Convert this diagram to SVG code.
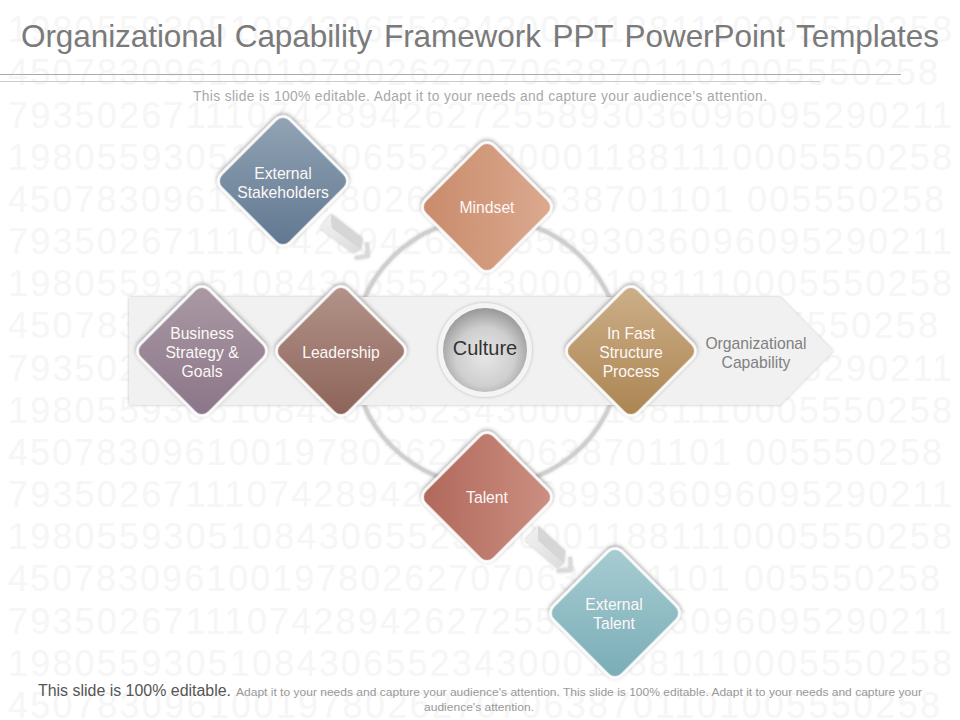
<svg xmlns="http://www.w3.org/2000/svg" width="960" height="720" viewBox="0 0 960 720">
<defs>
<style>
.wm{font-family:"Liberation Sans",Arial,sans-serif;font-size:36px;fill:#f6f6f6}
.t{font-family:"Liberation Sans",Arial,sans-serif;font-size:15.700px;fill:#fdf8f6;text-anchor:middle}
.d{stroke:#fff;stroke-width:2.500;filter:url(#sh)}
</style>
<filter id="sh" x="-20%" y="-20%" width="140%" height="140%"><feDropShadow dx="-1" dy="-1" stdDeviation="2" flood-color="#444" flood-opacity=".55"/></filter>
<filter id="sh2" x="-10%" y="-20%" width="120%" height="140%"><feDropShadow dx="0" dy="0" stdDeviation="1.500" flood-color="#777" flood-opacity=".5"/></filter>
<linearGradient id="g1" x1="0" y1="0" x2="1" y2="1"><stop offset="0" stop-color="#93a5b5"/><stop offset="1" stop-color="#5f7690"/></linearGradient>
<linearGradient id="g2" x1="0" y1="1" x2="1" y2="0"><stop offset="0" stop-color="#c88a6a"/><stop offset="1" stop-color="#dcaa90"/></linearGradient>
<linearGradient id="g3" x1="0" y1="0" x2="1" y2="1"><stop offset="0" stop-color="#ab9aa4"/><stop offset="1" stop-color="#8a7488"/></linearGradient>
<linearGradient id="g4" x1="0" y1="0" x2="1" y2="1"><stop offset="0" stop-color="#b3948b"/><stop offset="1" stop-color="#8c6257"/></linearGradient>
<linearGradient id="g5" x1="0" y1="0" x2="1" y2="1"><stop offset="0" stop-color="#cdb08a"/><stop offset="1" stop-color="#ab8350"/></linearGradient>
<linearGradient id="g6" x1="0" y1="1" x2="1" y2="0"><stop offset="0" stop-color="#b0675a"/><stop offset="1" stop-color="#cc9082"/></linearGradient>
<linearGradient id="g7" x1="0" y1="0" x2="1" y2="1"><stop offset="0" stop-color="#a9cdd3"/><stop offset="1" stop-color="#78acb6"/></linearGradient>
<radialGradient id="c" cx=".5" cy=".58" r=".58"><stop offset="0" stop-color="#e6e6e6"/><stop offset=".6" stop-color="#cfcfcf"/><stop offset="1" stop-color="#979797"/></radialGradient>
<linearGradient id="ar" x1="0" y1="0" x2="1" y2="1"><stop offset="0" stop-color="#f2f2f2"/><stop offset="1" stop-color="#dcdcdc"/></linearGradient>
<rect id="dia" x="-48.500" y="-48.500" width="97" height="97" rx="10"/>
</defs>
<rect width="960" height="720" fill="#fff"/>
<g id="watermark" class="wm">
<text x="8" y="42" textLength="944">1980559305108430655234300011881110005550258</text>
<text x="8" y="85" textLength="930">450783096100197802627070638701101005550258</text>
<text x="8" y="128" textLength="944">7935026711107428942627255893036096095290211</text>
<text x="8" y="170" textLength="944">1980559305108430655234300011881110005550258</text>
<text x="8" y="212" textLength="936">450783096100197802627070638701101 005550258</text>
<text x="8" y="254" textLength="944">7935026711107428942627255893036096095290211</text>
<text x="8" y="296" textLength="944">1980559305108430655234300011881110005550258</text>
<text x="8" y="338" textLength="930">450783096100197802627070638701101005550258</text>
<text x="8" y="381" textLength="944">7935026711107428942627255893036096095290211</text>
<text x="8" y="423" textLength="944">1980559305108430655234300011881110005550258</text>
<text x="8" y="465" textLength="934">450783096100197802627070638701101 005550258</text>
<text x="8" y="507" textLength="944">7935026711107428942627255893036096095290211</text>
<text x="8" y="549" textLength="944">1980559305108430655234300011881110005550258</text>
<text x="8" y="591" textLength="932">450783096100197802627070638701101 005550258</text>
<text x="8" y="634" textLength="944">7935026711107428942627255893036096095290211</text>
<text x="8" y="676" textLength="944">1980559305108430655234300011881110005550258</text>
<text x="8" y="718" textLength="932">450783096100197802627070638701101005550258</text>
</g>
<text x="480" y="47" text-anchor="middle" font-family="Liberation Sans,Arial,sans-serif" font-size="31.500" word-spacing="3" fill="#7a7a7a" textLength="918">Organizational Capability Framework PPT PowerPoint Templates</text>
<line x1="0" y1="74.500" x2="901" y2="74.500" stroke="#aaa"/>
<line x1="0" y1="81.500" x2="820" y2="81.500" stroke="#ccc"/>
<text x="480" y="101" text-anchor="middle" font-family="Liberation Sans,Arial,sans-serif" font-size="13.800" fill="#a8a8a8" textLength="574">This slide is 100% editable. Adapt it to your needs and capture your audience’s attention.</text>
<g id="connectors">
<circle cx="487" cy="352" r="134" fill="none" stroke="#cfcfcf" stroke-width="3.500" filter="url(#sh2)"/>
<path id="band" d="M129 297H780L833 351L780 405H129Z" fill="#f1f1f1" filter="url(#sh2)"/>
<g id="arrow-1" filter="url(#sh2)">
<path d="M331 214L320 228L353 253L361 249L332 228Z" fill="url(#ar)"/>
<path d="M331 214L362 238L361 249L332 228Z" fill="#d6d6d6"/>
<path d="M367 243L368 256L355 258" fill="none" stroke="#dadada" stroke-width="3"/>
</g>
<g id="arrow-2" filter="url(#sh2)">
<path d="M538 526L525 540L557 568L564 563L538 540Z" fill="url(#ar)"/>
<path d="M538 526L565 551L564 563L538 540Z" fill="#d6d6d6"/>
<path d="M570 557L571 570L557 571" fill="none" stroke="#dadada" stroke-width="3"/>
</g>
</g>
<g id="node-external-stakeholders"><use href="#dia" transform="translate(283 181) rotate(45)" fill="url(#g1)" class="d"/><text class="t"><tspan x="283" y="179">External</tspan><tspan x="283" y="198">Stakeholders</tspan></text></g>
<g id="node-mindset"><use href="#dia" transform="translate(487 207) rotate(45)" fill="url(#g2)" class="d"/><text class="t" x="487" y="213">Mindset</text></g>
<g id="node-business"><use href="#dia" transform="translate(202 351) rotate(45)" fill="url(#g3)" class="d"/><text class="t"><tspan x="202" y="339">Business</tspan><tspan x="202" y="358">Strategy &amp;</tspan><tspan x="202" y="377">Goals</tspan></text></g>
<g id="node-leadership"><use href="#dia" transform="translate(341 351) rotate(45)" fill="url(#g4)" class="d"/><text class="t" x="341" y="358">Leadership</text></g>
<g id="node-culture"><circle cx="485" cy="350" r="47" fill="#f4f4f4" filter="url(#sh2)"/><circle cx="485" cy="350" r="42" fill="url(#c)"/><text x="485" y="355" text-anchor="middle" font-family="Liberation Sans,Arial,sans-serif" font-size="20" fill="#333">Culture</text></g>
<g id="node-process"><use href="#dia" transform="translate(631 351) rotate(45)" fill="url(#g5)" class="d"/><text class="t"><tspan x="631" y="339">In Fast</tspan><tspan x="631" y="358">Structure</tspan><tspan x="631" y="377">Process</tspan></text></g>
<g id="node-talent"><use href="#dia" transform="translate(487 497) rotate(45)" fill="url(#g6)" class="d"/><text class="t" x="487" y="503">Talent</text></g>
<g id="node-external-talent"><use href="#dia" transform="translate(615 613) rotate(45)" fill="url(#g7)" class="d"/><text class="t"><tspan x="614" y="610">External</tspan><tspan x="614" y="629">Talent</tspan></text></g>
<g id="node-capability"><text class="t" style="fill:#808080"><tspan x="756" y="349">Organizational</tspan><tspan x="756" y="368">Capability</tspan></text></g>
<text x="38" y="696" font-family="Liberation Sans,Arial,sans-serif" font-size="16" fill="#555" textLength="193" lengthAdjust="spacingAndGlyphs">This slide is 100% editable.</text>
<text x="236" y="696" font-family="Liberation Sans,Arial,sans-serif" font-size="11" fill="#999" textLength="686" lengthAdjust="spacingAndGlyphs">Adapt it to your needs and capture your audience's attention. This slide is 100% editable. Adapt it to your needs and capture your</text>
<text x="479" y="711" text-anchor="middle" font-family="Liberation Sans,Arial,sans-serif" font-size="11" fill="#999" textLength="110" lengthAdjust="spacingAndGlyphs">audience's attention.</text>
</svg>
